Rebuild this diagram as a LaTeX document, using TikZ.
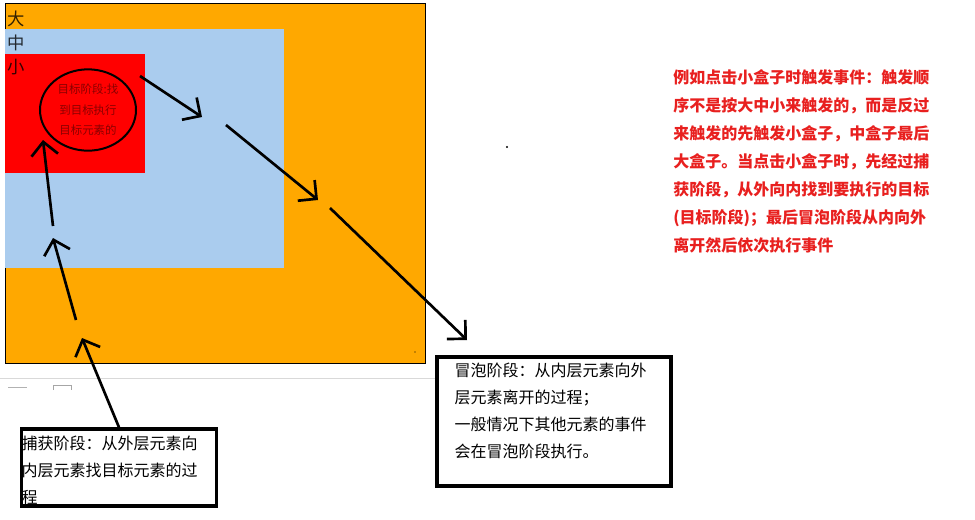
\documentclass[tikz,border=0pt]{standalone}
\usepackage{fontspec}
\newfontfamily\cjk{Noto Sans CJK SC}
\usetikzlibrary{arrows.meta,shapes.geometric}

\definecolor{bigbox}{HTML}{FFA800}
\definecolor{midbox}{HTML}{AACCEE}
\definecolor{smallbox}{HTML}{FF0000}
\definecolor{notered}{HTML}{E8201F}
\definecolor{ovaltext}{HTML}{8A0000}

\tikzset{
  flow/.style={line width=2pt,-{Straight Barb[length=10pt,width=20pt]}},
  frame/.style={draw,line width=2.5pt,inner sep=0pt},
  note/.style={anchor=north west,inner sep=0pt,align=left,font=\cjk\fontsize{12pt}{20.25pt}\selectfont},
  boxlabel/.style={inner sep=0pt,text opacity=0.8,font=\cjk\fontsize{13pt}{15pt}\selectfont}
}

\begin{document}
\begin{tikzpicture}[x=0.75pt,y=-0.75pt]
  \useasboundingbox (0,0) rectangle (975,519);
  % nested boxes
  \filldraw[fill=bigbox,draw=black,line width=0.75pt] (5,3) rectangle (425,363);
  \fill[midbox] (5.4,29) rectangle (284,268);
  \fill[smallbox] (5.4,54) rectangle (145,173);
  \node[boxlabel] (big) at (16,19) {大};
  \node[boxlabel] (middle) at (16,43) {中};
  \node[boxlabel] (small) at (16,67) {小};
  \node[draw,ellipse,line width=1.5pt,minimum width=72pt,minimum height=61pt,inner sep=0pt,
        align=center,text=ovaltext,font=\cjk\fontsize{8.6pt}{15.4pt}\selectfont] (target) at (88,110)
        {目标阶段:找\\到目标执行\\目标元素的};
  % window strip
  \draw[black!15,line width=0.75pt] (0,378) -- (435,378);
  \draw[black!30,line width=0.75pt] (8,387) -- (27,387);
  \draw[black!35,line width=0.75pt] (53,390) |- (71,385) -- (71,390);
  \fill (507,147) circle (0.8pt);
  \fill (415,352) circle (0.5pt);
  % notes
  \node[frame,minimum width=146.25pt,minimum height=57.75pt] (capture) at (119,467.5) {};
  \node[note] (capturetext) at ([shift={(1.5,8)}]capture.north west)
        {捕获阶段：从外层元素向\\内层元素找目标元素的过\\程};
  \node[frame,minimum width=175.5pt,minimum height=96.75pt] (bubble) at (554,421.5) {};
  \node[note] (bubbletext) at ([shift={(19,7)}]bubble.north west)
        {冒泡阶段：从内层元素向外\\层元素离开的过程；\\一般情况下其他元素的事件\\会在冒泡阶段执行。};
  \node[note,text=notered,font=\cjk\bfseries\fontsize{12pt}{21pt}\selectfont] (explain) at (673,69)
        {例如点击小盒子时触发事件：触发顺\\序不是按大中小来触发的，而是反过\\来触发的先触发小盒子，中盒子最后\\大盒子。当点击小盒子时，先经过捕\\获阶段，从外向内找到要执行的目标\\(目标阶段)；最后冒泡阶段从内向外\\离开然后依次执行事件};
  % arrows
  \coordinate (up1) at (82,338);
  \coordinate (up2) at (76,320);
  \coordinate (up3) at (53,238);
  \coordinate (up4) at (53,226);
  \coordinate (up5) at (43,140);
  \coordinate (down0) at (140,76);
  \coordinate (down1) at (202,117);
  \coordinate (down2) at (226,125);
  \coordinate (down3) at (318,200);
  \coordinate (down4) at (330,208);
  \coordinate (down5) at (467,340);
  \foreach \from/\to in {capture.north/up1,up2/up3,up4/up5,down0/down1,down2/down3,down4/down5}
    \draw[flow] (\from) -- (\to);
\end{tikzpicture}
\end{document}
